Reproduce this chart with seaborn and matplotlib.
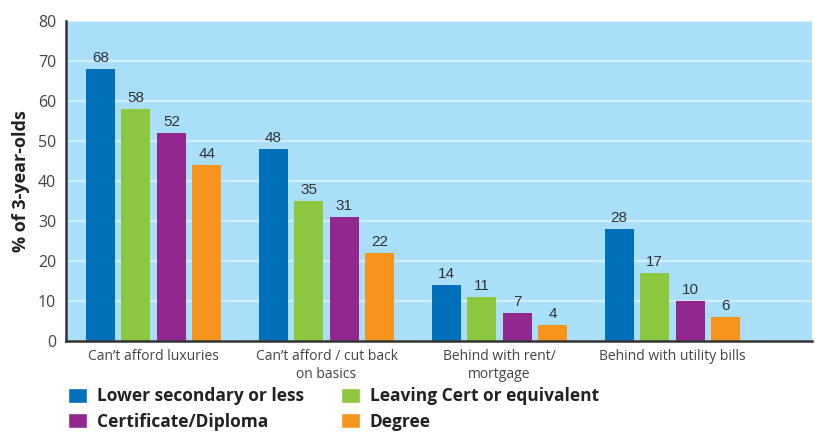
import matplotlib
matplotlib.use("Agg")
import matplotlib.pyplot as plt
from matplotlib.patches import Patch
import seaborn as sns
import pandas as pd

categories = ["Can\u2019t afford luxuries", "Can\u2019t afford / cut back\non basics",
              "Behind with rent/\nmortgage", "Behind with utility bills"]
education = ["Lower secondary or less", "Leaving Cert or equivalent",
             "Certificate/Diploma", "Degree"]
lower_secondary = [68, 48, 14, 28]
leaving_cert = [58, 35, 11, 17]
certificate = [52, 31, 7, 10]
degree = [44, 22, 4, 6]
y_ticks = [0, 10, 20, 30, 40, 50, 60, 70, 80]

colors = ["#0070BA", "#8DC63F", "#92278F", "#F7941D"]

rows = []
for edu, vals in zip(education, [lower_secondary, leaving_cert, certificate, degree]):
    for cat, v in zip(categories, vals):
        rows.append({"category": cat, "education": edu, "value": v})
df = pd.DataFrame(rows)

sns.set_style("white")
plt.rcParams["font.family"] = ["Open Sans", "DejaVu Sans"]

fig = plt.figure(figsize=(8.18, 4.32), dpi=100)
ax = fig.add_axes([66 / 818, 1 - 341 / 432, (812 - 66) / 818, 320 / 432])
ax.set_facecolor("#AADFF9")

sns.barplot(data=df, x="category", y="value", hue="education", order=categories,
            hue_order=education, palette=colors, width=0.821, gap=0.183,
            saturation=1, legend=False, ax=ax, errorbar=None, linewidth=0)

for cont in ax.containers:
    ax.bar_label(cont, padding=3, fontsize=11, color="#333333",
                 family=["Liberation Sans", "DejaVu Sans"])

ax.set_ylim(0, 80)
ax.set_xlim(-0.507, 3.808)
ax.set_yticks(y_ticks)
ax.yaxis.grid(True, color="#CFEDFB", linewidth=1.6)
ax.xaxis.grid(False)
ax.set_axisbelow(True)
for s in ["top", "right"]:
    ax.spines[s].set_visible(False)
for s in ["left", "bottom"]:
    ax.spines[s].set_color("#333333")
    ax.spines[s].set_linewidth(1.8)
ax.tick_params(axis="y", length=0, pad=7, labelsize=11.5, labelcolor="#444444")
ax.tick_params(axis="x", length=0, pad=6, labelsize=10, labelcolor="#444444")
ax.set_xlabel("")
ax.set_ylabel("% of 3-year-olds", fontsize=13, fontweight="bold", color="#222222", labelpad=6)

leg_kw = dict(frameon=False, handlelength=1.1, handleheight=0.95,
              handletextpad=0.55, labelspacing=0.45, borderpad=0, borderaxespad=0,
              loc="upper left", prop={"weight": "bold", "size": 12.5})
h1 = [Patch(facecolor=colors[0]), Patch(facecolor=colors[2])]
h2 = [Patch(facecolor=colors[1]), Patch(facecolor=colors[3])]
l1 = fig.legend(h1, [education[0], education[2]], bbox_to_anchor=(68 / 818, 1 - 387 / 432), **leg_kw)
l2 = fig.legend(h2, [education[1], education[3]], bbox_to_anchor=(341 / 818, 1 - 387 / 432), **leg_kw)
for l in (l1, l2):
    for t in l.get_texts():
        t.set_color("#222222")

fig.savefig("out.png", dpi=100)
